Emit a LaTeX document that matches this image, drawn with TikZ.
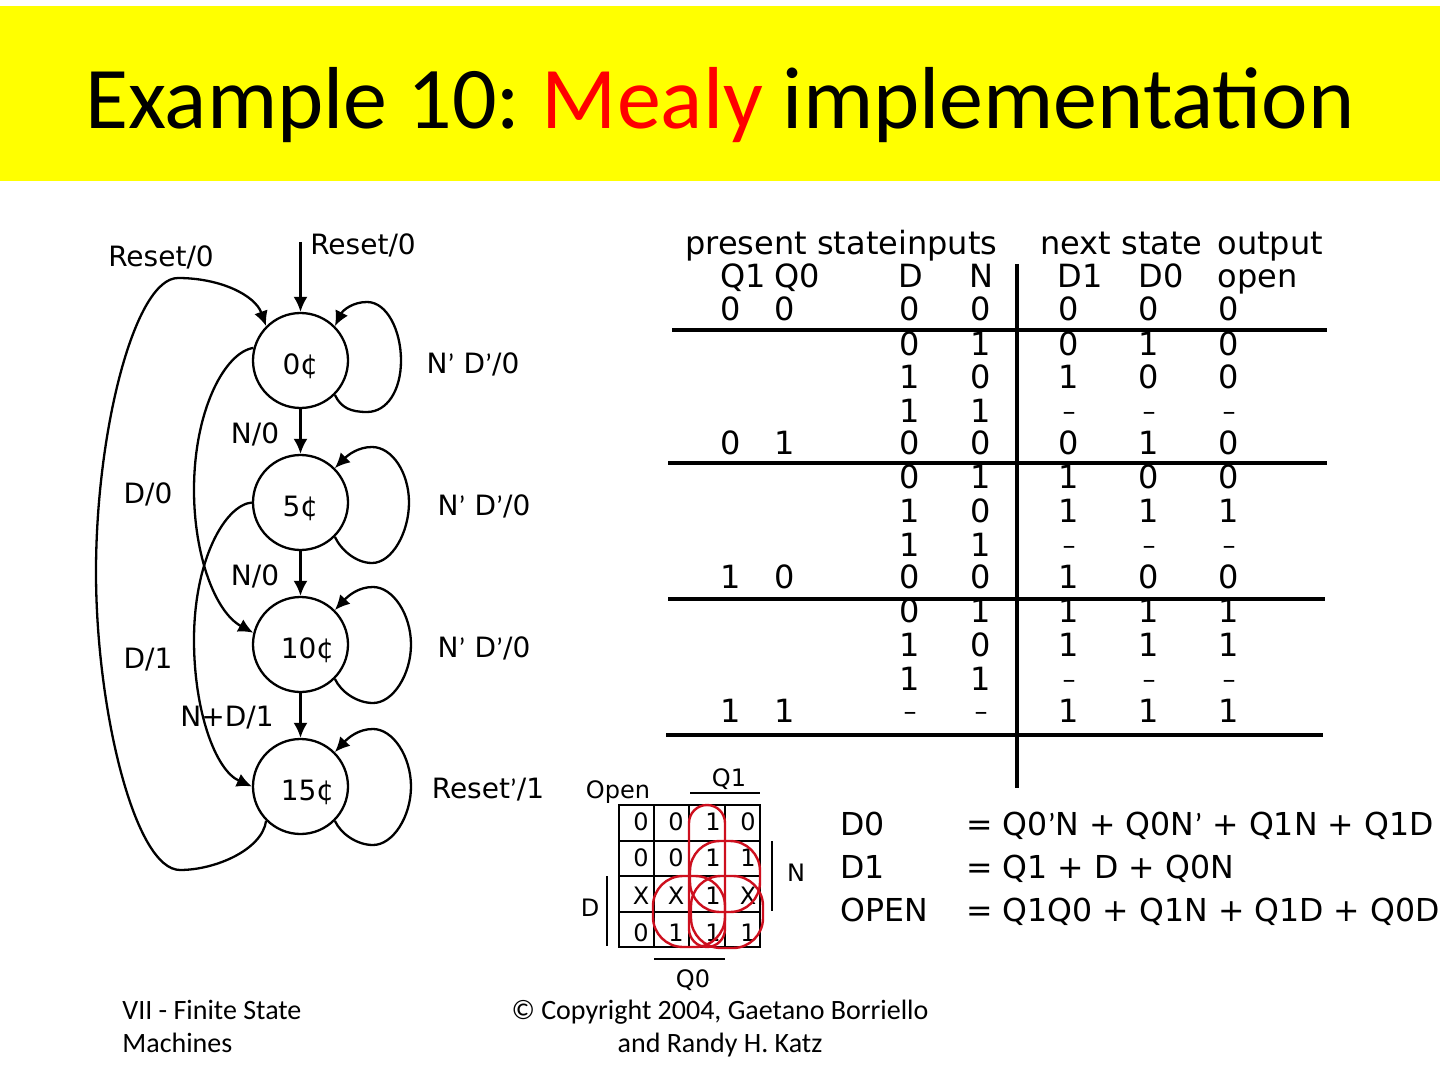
\documentclass[tikz,border=0pt]{standalone}
\usepackage{fontspec}
\setmainfont{DejaVu Sans}
\newfontfamily\slidefont{Carlito}
\usetikzlibrary{arrows.meta}
\definecolor{bandyellow}{RGB}{255,255,0}
\definecolor{loopred}{RGB}{205,15,30}
\newcommand{\nc}{\raisebox{1pt}{\fontsize{13}{14}\selectfont –}}
\newcommand{\ap}{{\slidefont ’}}
\tikzset{
    statenode/.style={draw,circle,line width=1.15pt,minimum size=47.5pt,inner sep=0pt,text height=14pt,text depth=0pt,font=\fontsize{14}{16}\selectfont},
    edge/.style={line width=1.15pt,-{Latex[length=7.5pt,width=7pt]}},
    lbl/.style={font=\fontsize{14}{16}\selectfont,inner sep=0pt},
    cell/.style={font=\fontsize{16}{18}\selectfont,inner sep=0pt,text height=11.7pt,text depth=0pt},
    head/.style={cell,anchor=west,text depth=3pt},
    rulerow/.style={line width=1.8pt},
    kcell/.style={font=\fontsize{12}{14}\selectfont,inner sep=0pt,text height=8.8pt,text depth=0pt},
    kline/.style={line width=1.2pt},
    kloop/.style={draw=loopred,line width=1.2pt},
    eqn/.style={font=\fontsize{15.8}{18}\selectfont,inner sep=0pt,anchor=base west},
    foot/.style={font=\slidefont\fontsize{14}{16.5}\selectfont,inner sep=0pt}
}
\begin{document}
\begin{tikzpicture}[x=0.5pt,y=-0.5pt]
    \useasboundingbox (0,0) rectangle (1440,1080);
    \fill[bandyellow] (0,6) rectangle (1440,181);
    \node[font=\slidefont\fontsize{44}{50}\selectfont,inner sep=0pt] (title) at (720,105) {Example 10:\hspace{-2.5pt} \textcolor{red}{Mealy} implementation};

    % state diagram
    \node[statenode] (s0) at (300.5,360.5) {0¢};
    \node[statenode] (s5) at (300.5,502.5) {5¢};
    \node[statenode] (s10) at (300.5,644.5) {\hspace{7pt}10¢};
    \node[statenode] (s15) at (300.5,786.5) {\hspace{7pt}15¢};
    \coordinate (start) at (300.5,242);

    \draw[edge] (start) -- (s0);
    \draw[edge] (s0) -- (s5);
    \draw[edge] (s5) -- (s10);
    \draw[edge] (s10) -- (s15);

    \foreach \st/\cy/\tx/\rx/\ta/\ba in {s0/360.5/367/401/58.5/51.5,s5/502.5/372/409/55.5/60.5,s10/644.5/373/411/57.5/58.5,s15/786.5/373/411/57.5/58.5}{
        \draw[edge] (\st.-45) .. controls +(6,13) and (\tx-16,\cy+\ba) .. (\tx,\cy+\ba)
            .. controls (\tx+20,\cy+\ba) and (\rx,\cy+30) .. (\rx,\cy)
            .. controls (\rx,\cy-30) and (\tx+20,\cy-\ta) .. (\tx,\cy-\ta)
            .. controls (\tx-14,\cy-\ta) and (\tx-24,\cy-\ta+8) .. (\st.45);
    }

    \draw[edge] (s15.-135) .. controls (262,850) and (215,870) .. (180,870)
        .. controls (135,870) and (96,710) .. (96,572)
        .. controls (96,430) and (135,278) .. (178,278)
        .. controls (220,278) and (255,295) .. (s0.135);
    \draw[edge] (s0.165) .. controls (225,352) and (194,410) .. (194,490)
        .. controls (194,555) and (215,612) .. (s10.166);
    \draw[edge] (s5.180) .. controls (225,505) and (194,560) .. (194,640)
        .. controls (194,710) and (215,770) .. (s15.180);

    \node[lbl] (rst0) at (363,245) {Reset/0};
    \node[lbl] (rst1) at (161,257) {Reset/0};
    \node[lbl] (hold0) at (473,364) {N\ap{} D\ap/0};
    \node[lbl] (hold5) at (484,506) {N\ap{} D\ap/0};
    \node[lbl] (hold10) at (484,648) {N\ap{} D\ap/0};
    \node[lbl] (hold15) at (488,790) {Reset\ap/1};
    \node[lbl] (n0) at (255,434) {N/0};
    \node[lbl] (n5) at (255,576) {N/0};
    \node[lbl] (d0) at (148,494) {D/0};
    \node[lbl] (d5) at (148,660) {D/1};
    \node[lbl] (nd) at (227,718) {N+D/1};

    % table
    \node[head] (hpres) at (685,246) {present state};
    \node[head] (hin) at (898,246) {inputs};
    \node[head] (hnext) at (1040,246) {next state};
    \node[head] (hout) at (1217,246) {output};
    \foreach \nm/\x/\t in {q1/720/Q1,q0/774/Q0,d/898/D,n/969/N,dd1/1057/D1,dd0/1138/D0,op/1217/open}{
        \node[head] (h\nm) at (\x,279) {\t};
    }
    \foreach \y/\q/\p in {309/0/0,443/0/1,577/1/0,711/1/1}{
        \node[cell] (qa\y) at (731,\y) {\q};
        \node[cell] (qb\y) at (785,\y) {\p};
    }
    \foreach \y/\d/\n/\a/\b/\o in {309/0/0/0/0/0,344/0/1/0/1/0,377/1/0/1/0/0,411/1/1/\nc/\nc/\nc,
        443/0/0/0/1/0,477/0/1/1/0/0,511/1/0/1/1/1,545/1/1/\nc/\nc/\nc,
        577/0/0/1/0/0,611/0/1/1/1/1,645/1/0/1/1/1,679/1/1/\nc/\nc/\nc,711/\nc/\nc/1/1/1}{
        \node[cell] (cd\y) at (910,\y) {\d};
        \node[cell] (cn\y) at (981,\y) {\n};
        \node[cell] (ca\y) at (1069,\y) {\a};
        \node[cell] (cb\y) at (1149,\y) {\b};
        \node[cell] (co\y) at (1229,\y) {\o};
    }
    \draw[rulerow] (672,330) -- (1327,330);
    \draw[rulerow] (668,463) -- (1327,463);
    \draw[rulerow] (668,599) -- (1325,599);
    \draw[rulerow] (666,735) -- (1323,735);
    \draw[rulerow] (1017,264) -- (1017,788);

    % karnaugh map
    \foreach \y/\a/\b/\c/\d in {822/0/0/1/0,858/0/0/1/1,896/X/X/1/X,933/0/1/1/1}{
        \node[kcell] (ka\y) at (641,\y) {\a};
        \node[kcell] (kb\y) at (676,\y) {\b};
        \node[kcell] (kc\y) at (713,\y) {\c};
        \node[kcell] (kd\y) at (748,\y) {\d};
    }
    \draw[kline] (619,805) rectangle (760,947);
    \foreach \x in {654,689,725}{
        \draw[kline] (\x,805) -- (\x,947);
    }
    \foreach \y in {841,876,912}{
        \draw[kline] (619,\y) -- (760,\y);
    }
    \draw[kline] (690,793) -- (760,793);
    \draw[kline] (654,959) -- (725,959);
    \draw[kline] (772,841) -- (772,911);
    \draw[kline] (607,876) -- (607,946);
    \node[kcell] (kq1) at (729,778) {Q1};
    \node[kcell] (kopen) at (618,790) {Open};
    \node[kcell] (kn) at (796,873) {N};
    \node[kcell] (kd) at (590,908) {D};
    \node[kcell] (kq0) at (693,979) {Q0};
    \draw[kloop,rounded corners=9pt] (689,805) rectangle (725,947);
    \draw[kloop,rounded corners=15pt] (690,841) rectangle (760,912);
    \draw[kloop,rounded corners=15pt] (691,876) rectangle (763,948);
    \draw[kloop,rounded corners=15pt] (653,876) rectangle (725,947);

    % equations
    \node[eqn] (e0) at (840,835) {D0};
    \node[eqn] (e1) at (840,878) {D1};
    \node[eqn] (e2) at (840,921) {OPEN};
    \node[eqn] (f0) at (966,835) {= Q0\ap{}N + Q0N\ap{} + Q1N + Q1D};
    \node[eqn] (f1) at (966,878) {= Q1 + D + Q0N};
    \node[eqn] (f2) at (966,921) {= Q1Q0 + Q1N + Q1D + Q0D};

    % footer
    \node[foot,align=left,anchor=north west] (fleft) at (122,1000) {VII - Finite State\\Machines};
    \node[foot,align=center,anchor=north] (fmid) at (720,1000) {© Copyright 2004, Gaetano Borriello\\and Randy H. Katz};
\end{tikzpicture}
\end{document}
